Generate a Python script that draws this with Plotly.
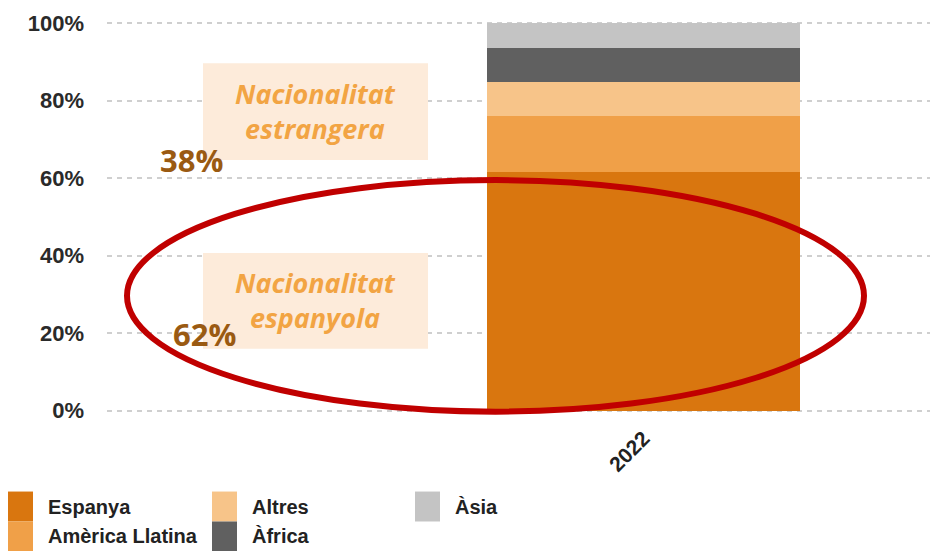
import plotly.graph_objects as go

# ---- data ----
categories = ["2022"]
series_names = ["Espanya", "Amèrica Llatina", "Altres", "Àfrica", "Àsia"]
series_values = [[61.6], [14.4], [8.8], [8.8], [6.4]]
series_colors = ["#D9760F", "#F0A048", "#F7C489", "#606060", "#C4C4C4"]
y_ticks = [0, 20, 40, 60, 80, 100]
y_tick_labels = ["0%", "20%", "40%", "60%", "80%", "100%"]
share_labels = ["38%", "62%"]
box_labels = ["Nacionalitat<br>estrangera", "Nacionalitat<br>espanyola"]

# ---- geometry (target page pixels; page body has an 8px margin) ----
OFF = 8
W, H = 938 - OFF, 551 - OFF
Y_RANGE = [-0.6, 100.6]
# plot area: x 107..938 (page), 0% at y=411, 100% at y=23 (page)
y0_px, y100_px = 411, 23
unit = (y0_px - y100_px) / 100.0
top_px = y100_px - (Y_RANGE[1] - 100) * unit
bot_px = y0_px + (0 - Y_RANGE[0]) * unit
ML = 107 - OFF
MR = 0
MT = top_px - OFF
MB = H - (bot_px - OFF)
PW = W - ML - MR
PH = H - MT - MB


def px(x):
    return (x - OFF - ML) / PW


def py(y):
    return (H - MB - (y - OFF)) / PH


fig = go.Figure()
for name, vals, col in zip(series_names, series_values, series_colors):
    fig.add_trace(go.Bar(x=categories, y=vals, name=name, marker_color=col,
                         marker_line_width=0, width=0.8, showlegend=False))

shapes = []
annotations = []

# label boxes
for (x0, y0, x1, y1), txt in zip([(203, 63, 428, 160), (203, 253, 428, 349)], box_labels):
    shapes.append(dict(type="rect", xref="paper", yref="paper",
                       x0=px(x0), x1=px(x1), y0=py(y1), y1=py(y0),
                       fillcolor="#FDEBDA", line_width=0, layer="above"))
    annotations.append(dict(xref="paper", yref="paper", x=px((x0 + x1) / 2), y=py((y0 + y1) / 2 - 1),
                            text=txt, showarrow=False, xanchor="center", yanchor="middle",
                            font=dict(family="Open Sans", size=27, color="#F2A443",
                                      style="italic", weight="bold")))

# red ellipse
shapes.append(dict(type="circle", xref="paper", yref="paper",
                   x0=px(127), x1=px(864), y0=py(412), y1=py(180),
                   line=dict(color="#C00000", width=6), fillcolor="rgba(0,0,0,0)", layer="above"))

# share labels
for (cx, cy), txt in zip([(191, 160), (204, 334)], share_labels):
    annotations.append(dict(xref="paper", yref="paper", x=px(cx), y=py(cy), text=txt,
                            showarrow=False, xanchor="center", yanchor="middle",
                            font=dict(family="Open Sans", size=31, color="#9A5A12", weight="bold")))

# custom legend (column-major, 3 columns x 2 rows)
col_x = [8, 212, 415]
row_y = [492, 522]
for i, (name, col) in enumerate(zip(series_names, series_colors)):
    c, r = divmod(i, 2)
    sx, sy = col_x[c], row_y[r]
    shapes.append(dict(type="rect", xref="paper", yref="paper",
                       x0=px(sx), x1=px(sx + 25), y0=py(sy + 30), y1=py(sy),
                       fillcolor=col, line_width=0))
    annotations.append(dict(xref="paper", yref="paper", x=px(sx + 38), y=py(sy + 15),
                            text=name, showarrow=False, xanchor="left", yanchor="middle",
                            font=dict(family="Liberation Sans", size=20, color="#222222",
                                      weight="bold")))

fig.update_layout(
    width=W, height=H,
    margin=dict(l=ML, r=MR, t=MT, b=MB, pad=0),
    barmode="stack",
    plot_bgcolor="white", paper_bgcolor="white",
    shapes=shapes, annotations=annotations,
    showlegend=False,
)
fig.update_xaxes(type="category", range=[-1.372, 0.753], showgrid=False, showline=False,
                 ticks="", tickangle=-45, ticklabelstandoff=8,
                 tickfont=dict(family="Liberation Sans", size=21, color="#222222", weight="bold"))
fig.update_yaxes(range=Y_RANGE, tickvals=y_ticks, ticktext=y_tick_labels,
                 showgrid=True, gridcolor="#CFCFCF", griddash="5px,5px", gridwidth=2,
                 zeroline=False, showline=False, ticks="", ticklabelstandoff=22,
                 tickfont=dict(family="Liberation Sans", size=22, color="#2a2a2a", weight="bold"))

fig.write_html("out.html")
